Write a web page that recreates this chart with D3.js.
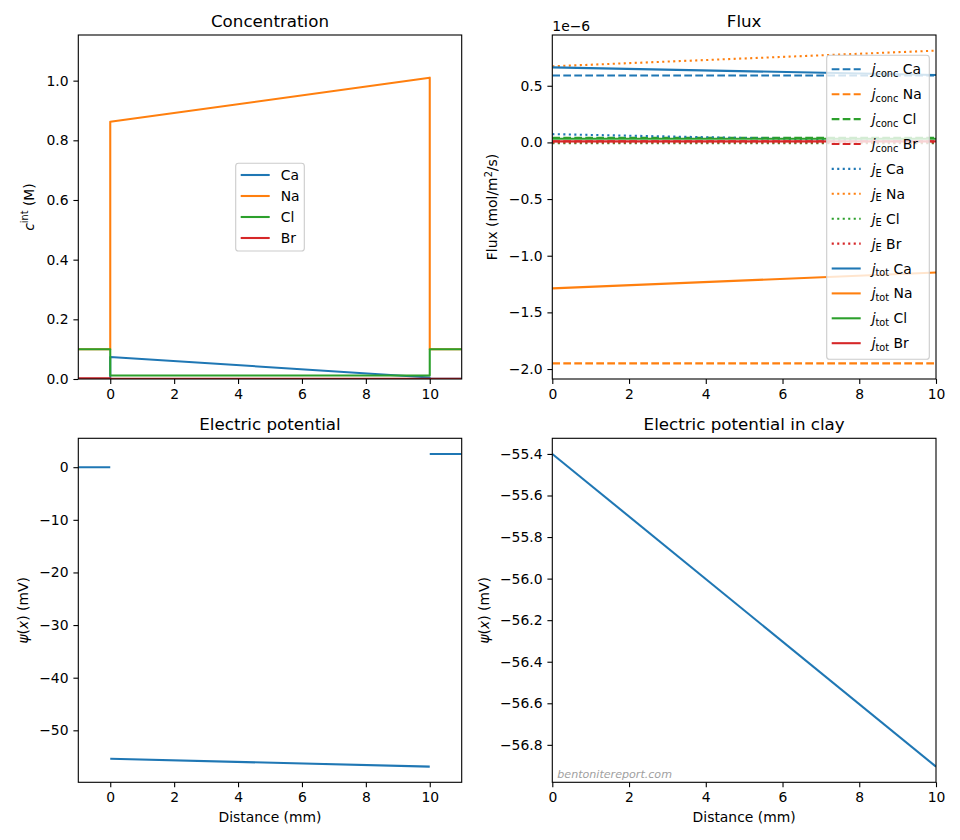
<!DOCTYPE html>
<html>
<head>
<meta charset="utf-8">
<script src="https://cdn.jsdelivr.net/npm/d3@7"></script>
<style>
    body { margin: 0; background: #ffffff; }
    svg text { font-family: "DejaVu Sans", sans-serif; fill: #000000; white-space: pre; }
</style>
</head>
<body>
<svg id="figure" width="960" height="840"></svg>
<script>
// Values.
const species = ["Ca", "Na", "Cl", "Br"];

// Concentration (M): left reservoir (-1..0), clay (0..10), right reservoir (10..11).
const concX = [-1, 0, 0, 10, 10, 11];
const concCa = [0.001, 0.001, 0.074, 0.005, 0.001, 0.001];
const concNa = [0.1, 0.1, 0.862, 1.010, 0.1, 0.1];
const concCl = [0.1, 0.1, 0.012, 0.012, 0.1, 0.1];
const concBr = [0.002, 0.002, 0.0005, 0.0003, 0.001, 0.001];
const concTicks = [0.0, 0.2, 0.4, 0.6, 0.8, 1.0];

// Flux in the clay, in units of 1e-6 mol/m2/s.
const fluxX = [0, 10];
const jConcCa = [0.590, 0.590];
const jConcNa = [-1.950, -1.950];
const jConcCl = [0.040, 0.040];
const jConcBr = [0.010, 0.010];
const jECa = [0.073, 0.005];
const jENa = [0.672, 0.810];
const jECl = [-0.008, -0.008];
const jEBr = [-0.001, -0.001];
const jTotCa = [0.662, 0.595];
const jTotNa = [-1.288, -1.148];
const jTotCl = [0.032, 0.032];
const jTotBr = [0.009, 0.009];
const fluxTicks = [-2.0, -1.5, -1.0, -0.5, 0.0, 0.5];

// Electric potential (mV).
const psiLeftX = [-1, 0];
const psiLeft = [0, 0];
const psiClayX = [0, 10];
const psiClay = [-55.40, -56.905];
const psiRightX = [10, 11];
const psiRight = [2.52, 2.52];
const psiTicks = [-50, -40, -30, -20, -10, 0];
const psiClayTicks = [-56.8, -56.6, -56.4, -56.2, -56.0, -55.8, -55.6, -55.4];

const distanceTicks = [0, 2, 4, 6, 8, 10];

/**
 * Draws the four panels of the figure, matplotlib style.
 */
class FigureView {
    constructor(selector) {
        var self = this;
        self.svg = d3.select(selector);
        self.fontSize = 13.9;
        self.titleSize = 16.7;
        self.lineWidth = 2.08;
        self.spineWidth = 1.1;
        self.tickLength = 4.9;
        self.colors = ["#1f77b4", "#ff7f0e", "#2ca02c", "#d62728"];
        self.dashes = {conc: "7.7,3.3", E: "2.1,3.4", tot: null};
        self.clipCount = 0;
        self.initialize();
    }

    initialize() {
        var self = this;
        self.createConcentration();
        self.createFlux();
        self.createPotential();
        self.createPotentialClay();
    }

    // Matplotlib style autoscale: data extent plus 5 percent on each side.
    paddedExtent(arrays) {
        var extent = d3.extent(d3.merge(arrays));
        var pad = (extent[1] - extent[0]) * 0.05;
        return [extent[0] - pad, extent[1] + pad];
    }

    createAxes(frame, xDomain, yDomain) {
        var self = this;
        var axes = {};
        axes.frame = frame;
        axes.x = d3.scaleLinear().domain(xDomain).range([frame.left, frame.right]);
        axes.y = d3.scaleLinear().domain(yDomain).range([frame.bottom, frame.top]);
        axes.group = self.svg.append("g");
        self.clipCount += 1;
        var clipId = "clip-" + self.clipCount;
        axes.group.append("clipPath")
            .attr("id", clipId)
            .append("rect")
            .attr("x", frame.left)
            .attr("y", frame.top)
            .attr("width", frame.right - frame.left)
            .attr("height", frame.bottom - frame.top);
        axes.plot = axes.group.append("g")
            .attr("clip-path", "url(#" + clipId + ")");
        return axes;
    }

    drawLine(axes, xs, ys, color, dash) {
        var self = this;
        var line = d3.line()
            .x(function (d) { return axes.x(d[0]); })
            .y(function (d) { return axes.y(d[1]); });
        axes.plot.append("path")
            .datum(d3.zip(xs, ys))
            .attr("d", line)
            .attr("fill", "none")
            .attr("stroke", color)
            .attr("stroke-width", self.lineWidth)
            .attr("stroke-dasharray", dash)
            .attr("stroke-linejoin", "round");
    }

    finishAxes(axes, xTicks, xFormat, yTicks, yFormat) {
        var self = this;
        var frame = axes.frame;
        // Spines.
        axes.group.append("rect")
            .attr("x", frame.left)
            .attr("y", frame.top)
            .attr("width", frame.right - frame.left)
            .attr("height", frame.bottom - frame.top)
            .attr("fill", "none")
            .attr("stroke", "#000000")
            .attr("stroke-width", self.spineWidth);
        var xAxis = axes.group.append("g")
            .attr("transform", "translate(0," + frame.bottom + ")")
            .call(d3.axisBottom(axes.x)
                .tickValues(xTicks)
                .tickFormat(d3.format(xFormat))
                .tickSize(self.tickLength)
                .tickPadding(self.tickLength));
        var yAxis = axes.group.append("g")
            .attr("transform", "translate(" + frame.left + ",0)")
            .call(d3.axisLeft(axes.y)
                .tickValues(yTicks)
                .tickFormat(d3.format(yFormat))
                .tickSize(self.tickLength)
                .tickPadding(self.tickLength));
        [xAxis, yAxis].forEach(function (axis) {
            axis.select(".domain").remove();
            axis.attr("font-family", null).attr("font-size", null);
            axis.selectAll("line")
                .attr("stroke", "#000000")
                .attr("stroke-width", self.spineWidth);
            axis.selectAll("text")
                .style("font-size", self.fontSize + "px");
        });
    }

    addTitle(axes, title) {
        var self = this;
        var frame = axes.frame;
        axes.group.append("text")
            .attr("x", (frame.left + frame.right) / 2)
            .attr("y", frame.top - 8.3)
            .attr("text-anchor", "middle")
            .style("font-size", self.titleSize + "px")
            .text(title);
    }

    addXLabel(axes, label) {
        var self = this;
        var frame = axes.frame;
        axes.group.append("text")
            .attr("x", (frame.left + frame.right) / 2)
            .attr("y", 822)
            .attr("text-anchor", "middle")
            .style("font-size", self.fontSize + "px")
            .text(label);
    }

    // Write a label made of parts: plain, italic, subscript or superscript.
    appendRich(text, parts) {
        var shift = 0;
        parts.forEach(function (part) {
            var target = 0;
            if (part.sub) {
                target = 2.6;
            } else if (part.sup) {
                target = -5.5;
            }
            var span = text.append("tspan")
                .attr("dy", target - shift)
                .text(part.t);
            shift = target;
            if (part.sub || part.sup) {
                span.style("font-size", "70%");
            }
            if (part.italic) {
                span.style("font-style", "italic");
            }
        });
    }

    addYLabel(axes, baselineX, parts) {
        var self = this;
        var frame = axes.frame;
        var text = axes.group.append("text")
            .attr("transform", "translate(" + baselineX + "," + ((frame.top + frame.bottom) / 2) + ") rotate(-90)")
            .attr("text-anchor", "middle")
            .style("font-size", self.fontSize + "px");
        self.appendRich(text, parts);
    }

    addLegend(box, entries, firstY, step) {
        var self = this;
        var legend = self.svg.append("g");
        legend.append("rect")
            .attr("x", box.left)
            .attr("y", box.top)
            .attr("width", box.right - box.left)
            .attr("height", box.bottom - box.top)
            .attr("rx", 2.8)
            .attr("fill", "#ffffff")
            .attr("fill-opacity", 0.8)
            .attr("stroke", "#cccccc")
            .attr("stroke-width", self.spineWidth);
        entries.forEach(function (entry, i) {
            var y = firstY + i * step;
            legend.append("line")
                .attr("x1", box.left + 5)
                .attr("x2", box.left + 34)
                .attr("y1", y)
                .attr("y2", y)
                .attr("stroke", entry.color)
                .attr("stroke-width", self.lineWidth)
                .attr("stroke-dasharray", entry.dash);
            var text = legend.append("text")
                .attr("x", box.left + 45)
                .attr("y", y + 5)
                .style("font-size", self.fontSize + "px");
            self.appendRich(text, entry.parts);
        });
    }

    createConcentration() {
        var self = this;
        var frame = {left: 78.3, right: 461.7, top: 35, bottom: 379};
        var axes = self.createAxes(frame, [-1, 11], [0, 1.153]);
        var series = [concCa, concNa, concCl, concBr];
        series.forEach(function (values, i) {
            self.drawLine(axes, concX, values, self.colors[i], null);
        });
        self.finishAxes(axes, distanceTicks, "d", concTicks, ".1f");
        self.addTitle(axes, "Concentration");
        self.addYLabel(axes, 33.5, [
            {t: "c", italic: true},
            {t: "int", sup: true},
            {t: " (M)"}
        ]);
        var entries = species.map(function (name, i) {
            return {color: self.colors[i], dash: null, parts: [{t: name}]};
        });
        self.addLegend({left: 235.7, right: 304.3, top: 163.3, bottom: 251}, entries, 175, 21);
    }

    createFlux() {
        var self = this;
        var frame = {left: 552.3, right: 936, top: 35, bottom: 379};
        var groups = [
            {key: "conc", series: [jConcCa, jConcNa, jConcCl, jConcBr]},
            {key: "E", series: [jECa, jENa, jECl, jEBr]},
            {key: "tot", series: [jTotCa, jTotNa, jTotCl, jTotBr]}
        ];
        var all = [];
        groups.forEach(function (group) {
            all = all.concat(group.series);
        });
        var axes = self.createAxes(frame, [0, 10], self.paddedExtent(all));
        var entries = [];
        groups.forEach(function (group) {
            group.series.forEach(function (values, i) {
                self.drawLine(axes, fluxX, values, self.colors[i], self.dashes[group.key]);
                entries.push({
                    color: self.colors[i],
                    dash: self.dashes[group.key],
                    parts: [{t: "j", italic: true}, {t: group.key, sub: true}, {t: " " + species[i]}]
                });
            });
        });
        self.finishAxes(axes, distanceTicks, "d", fluxTicks, ".1f");
        self.addTitle(axes, "Flux");
        // Offset text of the y axis.
        axes.group.append("text")
            .attr("x", frame.left)
            .attr("y", 31)
            .style("font-size", self.fontSize + "px")
            .text("1e\u22126");
        self.addYLabel(axes, 497, [
            {t: "Flux (mol/m"},
            {t: "2", sup: true},
            {t: "/s)"}
        ]);
        self.addLegend({left: 826.7, right: 929.3, top: 55.3, bottom: 359.3}, entries, 69.3, 24.9);
    }

    createPotential() {
        var self = this;
        var frame = {left: 78.3, right: 461.7, top: 438.3, bottom: 782.3};
        var yDomain = self.paddedExtent([psiLeft, psiClay, psiRight]);
        var axes = self.createAxes(frame, [-1, 11], yDomain);
        self.drawLine(axes, psiLeftX, psiLeft, self.colors[0], null);
        self.drawLine(axes, psiClayX, psiClay, self.colors[0], null);
        self.drawLine(axes, psiRightX, psiRight, self.colors[0], null);
        self.finishAxes(axes, distanceTicks, "d", psiTicks, "d");
        self.addTitle(axes, "Electric potential");
        self.addXLabel(axes, "Distance (mm)");
        self.addYLabel(axes, 27.5, [
            {t: "\u03c8", italic: true},
            {t: "("},
            {t: "x", italic: true},
            {t: ") (mV)"}
        ]);
    }

    createPotentialClay() {
        var self = this;
        var frame = {left: 552.3, right: 936, top: 438.3, bottom: 782.3};
        var axes = self.createAxes(frame, [0, 10], self.paddedExtent([psiClay]));
        self.drawLine(axes, psiClayX, psiClay, self.colors[0], null);
        self.finishAxes(axes, distanceTicks, "d", psiClayTicks, ".1f");
        self.addTitle(axes, "Electric potential in clay");
        self.addXLabel(axes, "Distance (mm)");
        self.addYLabel(axes, 488.5, [
            {t: "\u03c8", italic: true},
            {t: "("},
            {t: "x", italic: true},
            {t: ") (mV)"}
        ]);
        // Watermark.
        axes.group.append("text")
            .attr("x", frame.left + 5)
            .attr("y", 777.7)
            .style("font-size", "11.1px")
            .style("font-style", "italic")
            .style("fill", "#a0a0a0")
            .text("bentonitereport.com");
    }
}

var figureView = new FigureView("#figure");
</script>
</body>
</html>
